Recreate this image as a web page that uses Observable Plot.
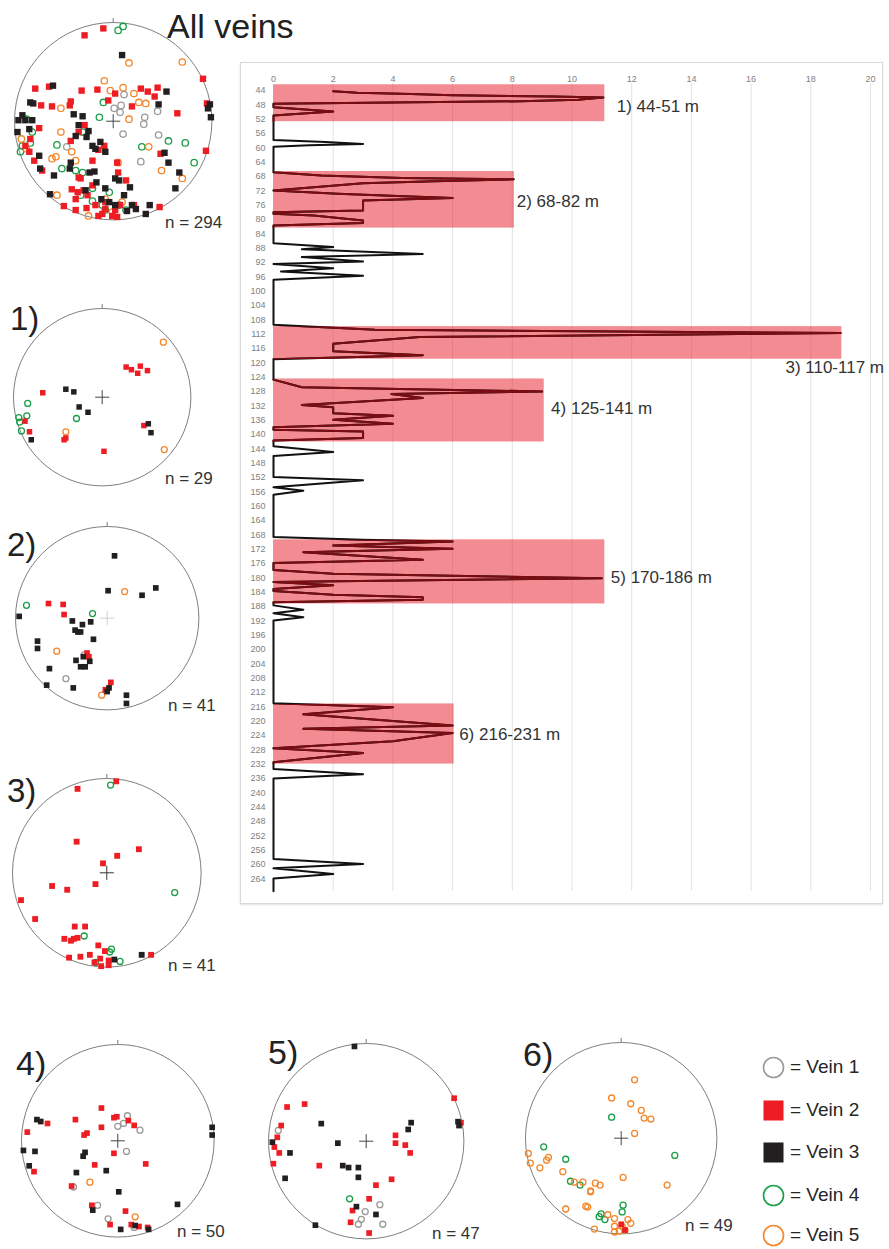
<!DOCTYPE html>
<html><head><meta charset="utf-8">
<script src="https://cdn.jsdelivr.net/npm/d3@7"></script>
<script src="https://cdn.jsdelivr.net/npm/@observablehq/plot@0.6"></script>
<style>
body{margin:0;background:#fff;font-family:"Liberation Sans",Arial,sans-serif;}
#page{position:relative;width:889px;height:1249px;overflow:hidden;background:#fff;}
.lbl{position:absolute;line-height:1;white-space:nowrap;color:#262626;}
.abs{position:absolute;}
</style></head><body><div id="page"></div>
<script>
// ---------- depth profile (vein count per depth) ----------
const depthM = [44.2,44.65,44.95,45.3,45.7,45.95,46.6,47.0,47.7,48.65,49.85,51.0,
57.8,58.4,58.9,59.3,59.7,
66.8,67.7,68.4,68.8,69.3,69.9,71.9,72.8,73.6,74.0,74.7,77.5,78.0,78.4,78.9,80.3,81.0,81.7,
86.6,87.7,88.3,89.6,90.5,91.7,92.4,93.6,94.5,95.7,96.8,
109.4,110.8,111.7,112.8,114.7,116.8,117.9,119.0,
124.7,126.8,128.0,128.7,129.8,131.8,132.4,134.05,134.8,135.9,137.0,138.0,138.7,139.2,141.0,141.7,
143.3,144.9,146.0,151.9,152.8,154.7,155.7,156.8,
168.65,169.4,169.9,171.0,171.9,172.9,175.0,175.9,177.8,178.9,180.1,181.2,182.1,183.1,183.7,184.7,185.4,186.1,186.8,
187.7,188.9,189.9,191.0,191.9,
215.0,216.1,218.1,220.0,221.2,222.1,223.3,225.6,227.6,228.9,231.5,
233.4,234.8,236.0,258.5,259.9,261.1,262.7,263.9,267.5];
const veinCount = [2,2.8,4.6,6,9.4,11.05,10.2,8.3,0,0,2,0,
0,1.75,3,1.2,0,
0,1.6,4.3,8.05,5.4,3,0,2.15,4.6,6,3,3,0,0,1.35,3,3,0,
0,2,0.95,5,0.95,3,0,2,0.25,3,0,
0,3.4,19,4.9,2,2,5,0,
0,0.95,9,3.95,5,0.95,2,2,4,2,4,0,0,3,3,0,
0,2,0,0,3,0,1,0,
0,3,6,2,6,1,5,0,0,2,11,0,2,0,0,2,5,5,0,
0,1,0,1,0,
0,4,1,4,6,1,6,4,0,3,0,
0,3,0,0,3,0,2,0,0];

const zoneLabel = ["1) 44-51 m","2) 68-82 m","3) 110-117 m","4) 125-141 m","5) 170-186 m","6) 216-231 m"];
const zoneTop = [42.4,66.6,109.9,124.5,169.4,215.2];
const zoneBottom = [52.7,82.4,119.0,142.1,187.3,232.0];
const zonePeak = [11.1,8.07,19.04,9.07,11.1,6.05];
const zoneLabelX = [11.5,8.15,17.15,9.3,11.3,6.22];
const zoneLabelDepth = [48.6,74.9,121.2,132.8,179.8,223.7];

const xTicks = [0,2,4,6,8,10,12,14,16,18,20];
const xGrid = [2,4,6,8,10,12,14,16,18,20];
const yTicks = [44,48,52,56,60,64,68,72,76,80,84,88,92,96,100,104,108,112,116,120,124,128,132,136,140,144,148,152,156,160,164,168,172,176,180,184,188,192,196,200,204,208,212,216,220,224,228,232,236,240,244,248,252,256,260,264];

// ---------- stereonet poles: [vein, x, y] in net-radius units ----------
const veinNames = ["Vein 1","Vein 2","Vein 3","Vein 4","Vein 5"];
const veinColors = ["#9a9a9a","#ee1d23","#231f20","#1a9e48","#f4862a"];
const veinSquare = [false,true,true,false,false];

const allVeinsPoles = [
[2,-0.10,0.94],[2,-0.29,0.87],[2,0.91,0.43],[2,-0.79,0.33],[2,-0.65,0.35],[2,-0.32,0.31],[2,-0.16,0.32],[2,0.28,0.33],[2,0.45,0.34],[2,0.35,0.30],[2,0.42,0.25],[2,0.95,0.18],[2,-0.73,0.16],[2,-0.62,0.15],[2,-0.43,0.20],[2,-0.44,0.16],[2,0.65,0.08],[2,-0.75,-0.07],[2,-0.29,-0.04],[2,-0.43,-0.20],[2,-0.35,-0.11],[2,0.19,0.15],[2,0.02,0.28],[2,-0.05,0.21],[2,-0.84,-0.18],[2,-0.89,-0.25],[2,-0.85,-0.31],[2,-0.80,-0.40],[2,-0.72,-0.50],[2,-0.09,-0.25],[2,-0.15,-0.29],[2,-0.21,-0.40],[2,0.04,-0.42],[2,0.05,-0.52],[2,-0.35,-0.57],[2,-0.21,-0.65],[2,-0.42,-0.69],[2,-0.36,-0.72],[2,-0.30,-0.70],[2,-0.38,-0.79],[2,-0.26,-0.75],[2,-0.50,-0.86],[2,-0.38,-0.90],[2,-0.27,-0.88],[2,-0.18,-0.85],[2,-0.08,-0.89],[2,0.02,-0.90],[2,0.07,-0.85],[2,-0.11,-0.94],[2,-0.01,-0.96],[2,0.04,-0.97],[2,-0.15,-0.96],[2,0.48,-0.33],[2,0.94,-0.30],[2,0.47,-0.87],[2,0.21,-0.85],[2,-0.08,-0.82],[2,-0.33,-0.58],[2,0.13,-0.60],
[3,0.09,0.67],[3,-0.61,0.36],[3,0.54,0.30],[3,0.46,0.17],[3,0.98,0.17],[3,0.96,0.13],[3,0.99,0.04],[3,-0.84,0.19],[3,-0.81,0.18],[3,-0.92,0.06],[3,-0.96,0.01],[3,-0.89,0.01],[3,-0.97,-0.11],[3,-0.85,-0.08],[3,-0.82,0.01],[3,-0.40,0.07],[3,-0.31,0.05],[3,-0.35,-0.04],[3,-0.25,-0.10],[3,-0.27,-0.16],[3,-0.38,-0.15],[3,-0.21,-0.25],[3,-0.18,-0.28],[3,-0.13,-0.21],[3,-0.08,-0.31],[3,0.52,-0.32],[3,0.56,-0.42],[3,0.67,-0.52],[3,0.63,-0.68],[3,-0.75,-0.35],[3,-0.74,-0.48],[3,-0.60,-0.55],[3,-0.43,-0.42],[3,-0.44,-0.48],[3,-0.24,-0.52],[3,-0.19,-0.51],[3,-0.17,-0.62],[3,0.02,-0.58],[3,0.06,-0.60],[3,0.17,-0.67],[3,-0.64,-0.74],[3,-0.28,-0.70],[3,-0.08,-0.68],[3,-0.12,-0.79],[3,-0.04,-0.82],[3,0.11,-0.75],[3,0.19,-0.85],[3,0.23,-0.89],[3,0.37,-0.85],[3,0.33,-0.94],[3,0.14,-0.91],[3,0.02,-0.85],
[4,0.10,0.96],[4,0.05,0.92],[4,-0.10,0.19],[4,-0.14,0.04],[4,-0.88,0.02],[4,-0.82,-0.11],[4,-0.92,-0.25],[4,-0.94,-0.31],[4,-0.84,-0.22],[4,-0.57,-0.24],[4,-0.31,-0.11],[4,0.56,-0.20],[4,0.73,-0.22],[4,0.82,-0.42],[4,0.29,-0.26],[4,-0.52,-0.48],[4,-0.38,-0.50],[4,-0.31,-0.52],[4,-0.21,-0.68],[4,-0.33,-0.75],[4,-0.21,-0.81],[4,-0.11,-0.85],[4,-0.08,-0.90],[4,0.06,-0.85],[4,0.13,-0.90],[4,-0.04,-0.72],
[5,0.70,0.60],[5,0.16,0.59],[5,-0.09,0.41],[5,-0.03,0.31],[5,0.10,0.34],[5,0.21,0.28],[5,0.26,0.19],[5,0.33,0.18],[5,-0.53,0.13],[5,0.16,0.02],[5,-0.53,-0.11],[5,-0.93,-0.18],[5,-0.88,-0.28],[5,-0.58,-0.36],[5,-0.38,-0.40],[5,0.05,-0.42],[5,0.70,-0.58],[5,0.49,-0.50],[5,-0.57,-0.75],[5,-0.08,-0.79],[5,0.09,-0.82],[5,-0.01,-0.92],[5,-0.25,-0.96],[5,0.36,-0.26],[5,-0.62,-0.38],[5,-0.42,-0.31],
[1,0.11,0.27],[1,0.08,0.16],[1,0.01,0.13],[1,0.07,0.09],[1,0.45,0.10],[1,0.32,0.04],[1,0.31,-0.03],[1,0.46,-0.14],[1,0.10,-0.13],[1,-0.47,-0.26],[1,0.28,-0.41]];

const zone1Poles = [
[5,0.69,0.62],[5,-0.41,-0.39],[5,0.70,-0.59],
[2,0.27,0.34],[2,0.33,0.31],[2,0.43,0.35],[2,0.40,0.27],[2,0.51,0.30],[2,-0.67,0.05],[2,-0.87,-0.27],[2,-0.82,-0.39],[2,-0.43,-0.48],[2,-0.41,-0.46],[2,0.02,-0.61],[2,0.47,-0.32],
[3,-0.41,0.09],[3,-0.32,0.06],[3,-0.26,-0.11],[3,-0.16,-0.17],[3,0.52,-0.30],[3,0.55,-0.40],[3,-0.80,-0.48],
[4,-0.84,-0.07],[4,-0.85,-0.21],[4,-0.94,-0.23],[4,-0.93,-0.28],[4,-0.91,-0.38],[4,-0.29,-0.24]];

const zone2Poles = [
[3,0.08,0.68],[3,0.01,0.30],[3,0.38,0.25],[3,0.53,0.33],[3,-0.96,0.02],[3,-0.38,-0.03],[3,-0.27,-0.07],[3,-0.18,-0.04],[3,-0.35,-0.13],[3,-0.32,-0.15],[3,-0.29,-0.15],[3,-0.15,-0.23],[3,-0.76,-0.25],[3,-0.76,-0.33],[3,-0.34,-0.46],[3,-0.29,-0.53],[3,-0.24,-0.53],[3,-0.19,-0.47],[3,-0.26,-0.42],[3,-0.63,-0.55],[3,-0.66,-0.73],[3,-0.37,-0.76],[3,0.02,-0.76],[3,0.00,-0.80],[3,0.21,-0.84],[3,0.21,-0.93],
[2,-0.64,0.16],[2,-0.48,0.15],[2,-0.47,0.04],[2,-0.22,-0.38],[2,-0.20,-0.42],[2,0.04,-0.70],[2,-0.02,-0.78],
[4,-0.88,0.14],[4,-0.16,0.05],
[5,0.19,0.29],[5,-0.55,-0.36],[5,-0.06,-0.84],
[1,-0.25,-0.40],[1,-0.45,-0.66]];

const zone3Poles = [
[2,0.10,0.97],[2,-0.31,0.89],[2,-0.32,0.33],[2,0.34,0.25],[2,0.11,0.18],[2,-0.04,0.10],[2,-0.12,-0.12],[2,-0.58,-0.14],[2,-0.42,-0.18],[2,-0.91,-0.29],[2,-0.76,-0.49],[2,-0.34,-0.57],[2,-0.23,-0.57],[2,-0.45,-0.70],[2,-0.38,-0.72],[2,-0.35,-0.70],[2,-0.31,-0.69],[2,-0.09,-0.77],[2,-0.02,-0.83],[2,-0.18,-0.87],[2,-0.28,-0.89],[2,-0.40,-0.90],[2,-0.07,-0.91],[2,0.02,-0.93],[2,-0.06,-0.99],[2,0.02,-0.98],[2,-0.13,-0.95],[2,0.47,-0.87],
[3,0.08,-0.92],[3,0.37,-0.87],
[4,0.04,0.93],[4,0.72,-0.21],[4,-0.24,-0.67],[4,0.05,-0.81],[4,0.03,-0.84],[4,0.14,-0.94],[4,-0.12,-0.95]];

const zone4Poles = [
[2,-0.17,0.34],[2,-0.44,0.22],[2,-0.04,0.24],[2,-0.01,0.25],[2,0.11,0.21],[2,0.17,0.16],[2,-0.73,0.18],[2,-0.94,0.09],[2,-0.17,0.14],[2,-0.35,0.06],[2,-0.32,0.08],[2,-0.04,-0.13],[2,-0.24,-0.25],[2,0.29,-0.24],[2,-0.87,-0.32],[2,-0.48,-0.47],[2,-0.27,-0.67],[2,0.08,-0.73],[2,-0.08,-0.87],[2,0.14,-0.87],[2,0.22,-0.89],[2,0.31,-0.90],
[3,-0.84,0.22],[3,-0.80,0.20],[3,-0.98,-0.10],[3,-0.86,-0.11],[3,-0.92,-0.26],[3,-0.34,-0.12],[3,-0.36,-0.16],[3,-0.43,-0.33],[3,-0.12,-0.31],[3,0.01,-0.53],[3,-0.26,-0.72],[3,0.03,-0.92],[3,0.18,-0.88],[3,0.32,-0.92],[3,0.62,-0.66],[3,0.98,0.14],[3,0.98,0.06],
[1,0.10,0.26],[1,0.06,0.18],[1,0.00,0.15],[1,0.23,0.11],[1,0.09,-0.11],[1,-0.46,-0.48],[1,-0.21,-0.67],[1,-0.10,-0.81],[1,0.17,-0.90],
[5,-0.29,-0.43],[5,0.18,-0.79]];

const zone5Poles = [
[3,-0.12,0.97],[3,-0.46,0.18],[3,0.46,0.19],[3,0.43,0.12],[3,0.94,0.20],[3,0.95,0.16],[3,-0.96,-0.01],[3,-0.78,-0.12],[3,-0.29,-0.02],[3,-0.24,-0.25],[3,-0.18,-0.27],[3,-0.08,-0.27],[3,-0.08,-0.37],[3,-0.83,-0.38],[3,-0.10,-0.67],[3,0.10,-0.75],[3,-0.52,-0.86],
[2,-0.81,0.35],[2,-0.63,0.38],[2,0.90,0.44],[2,0.97,0.19],[2,-0.87,0.16],[2,-0.91,0.04],[2,-0.94,-0.06],[2,-0.89,-0.12],[2,-0.95,-0.23],[2,0.30,0.06],[2,0.30,-0.02],[2,0.40,-0.04],[2,0.45,-0.12],[2,-0.48,-0.25],[2,0.26,-0.39],[2,0.10,-0.45],[2,0.03,-0.59],[2,-0.14,-0.71],[2,-0.16,-0.83],[2,0.03,-0.94],
[1,-0.90,0.11],[1,0.14,-0.65],[1,-0.01,-0.72],[1,-0.05,-0.80],[1,-0.08,-0.85],[1,0.17,-0.85],
[4,-0.17,-0.59]];

const zone6Poles = [
[5,0.14,0.61],[5,-0.10,0.42],[5,0.10,0.36],[5,0.21,0.29],[5,0.24,0.21],[5,0.31,0.20],[5,0.14,0.05],[5,-0.97,-0.16],[5,-0.95,-0.26],[5,-0.78,-0.23],[5,-0.76,-0.20],[5,-0.85,-0.31],[5,-0.61,-0.35],[5,-0.49,-0.46],[5,-0.40,-0.46],[5,-0.27,-0.47],[5,-0.22,-0.49],[5,-0.32,-0.55],[5,-0.32,-0.56],[5,0.02,-0.41],[5,0.48,-0.49],[5,-0.58,-0.74],[5,-0.37,-0.71],[5,-0.35,-0.72],[5,-0.14,-0.80],[5,-0.07,-0.84],[5,0.07,-0.85],[5,0.10,-0.89],[5,-0.07,-0.92],[5,0.04,-0.96],[5,-0.07,-0.98],[5,-0.02,-0.97],[5,-0.28,-0.95],[5,0.01,-0.92],
[4,-0.10,0.22],[4,-0.81,-0.09],[4,-0.58,-0.22],[4,0.56,-0.18],[4,-0.53,-0.45],[4,-0.43,-0.49],[4,0.02,-0.70],[4,0.01,-0.77],[4,-0.21,-0.79],[4,-0.23,-0.82],[4,-0.17,-0.85],
[2,0.00,-0.90],[2,0.04,-0.96]];

const netTitles = ["All veins","1)","2)","3)","4)","5)","6)"];
const netCounts = ["n = 294","n = 29","n = 41","n = 41","n = 50","n = 47","n = 49"];

// ---------- layout helpers ----------
const page = document.getElementById("page");
const FONT = '"Liberation Sans", Arial, sans-serif';
function addText(txt, left, baseline, fs, color) {
  const d = document.createElement("div");
  d.className = "lbl";
  d.textContent = txt;
  d.style.left = left + "px";
  d.style.top = (baseline - 0.8465 * fs) + "px";
  d.style.fontSize = fs + "px";
  if (color) d.style.color = color;
  page.appendChild(d);
}
function place(el, left, top) {
  el.style.position = "absolute";
  el.style.left = left + "px";
  el.style.top = top + "px";
  page.appendChild(el);
}

// ---------- main depth chart ----------
const panel = document.createElement("div");
panel.style.cssText = "position:absolute;left:240px;top:62px;width:641px;height:840px;border:1px solid #d9d9d9;box-shadow:0 1px 2px rgba(0,0,0,0.12);background:#fff;";
page.appendChild(panel);

const profile = depthM.map((d, i) => ({depth: d, count: veinCount[i]}));
const zones = zoneLabel.map((t, i) => ({label: t, top: zoneTop[i], bottom: zoneBottom[i], peak: zonePeak[i], lx: zoneLabelX[i], ly: zoneLabelDepth[i]}));

const chart = Plot.plot({
  width: 642, height: 841,
  marginLeft: 33, marginRight: 12, marginTop: 28, marginBottom: 12.2,
  x: {domain: [0, 20], axis: null},
  y: {domain: [44, 267.5], reverse: true, axis: null},
  style: {overflow: "visible", background: "transparent", fontFamily: FONT},
  marks: [
    Plot.ruleX(xGrid, {x: d => d, y1: () => 42, y2: () => 267.5, stroke: "#e2e2e2", strokeWidth: 1}),
    Plot.rect(zones, {x1: () => 0, x2: "peak", y1: "top", y2: "bottom", fill: "#e8323c", fillOpacity: 0.56}),
    Plot.line(profile, {x: "count", y: "depth", stroke: "#111", strokeWidth: 2}),
    Plot.line(profile, {x: "count", y: "depth", stroke: "#7a0c12", strokeWidth: 2}),
    Plot.text(zones, {x: "lx", y: "ly", text: "label", textAnchor: "start", fontSize: 17, fill: "#333"}),
    Plot.text(xTicks, {x: d => d, text: d => String(d), frameAnchor: "top", dy: -15, fontSize: 9, fill: "#7f7f7f"}),
    Plot.text(yTicks, {y: d => d, text: d => String(d), frameAnchor: "left", dx: -8, textAnchor: "end", fontSize: 9, fill: "#7f7f7f"})
  ]
});
// clip the dark-red profile to the zone boxes
(function () {
  const ns = "http://www.w3.org/2000/svg";
  const rects = chart.querySelectorAll('g[aria-label="rect"] rect');
  const lines = chart.querySelectorAll('g[aria-label="line"]');
  if (rects.length && lines.length > 1) {
    const defs = document.createElementNS(ns, "defs");
    const cp = document.createElementNS(ns, "clipPath");
    cp.setAttribute("id", "zoneClipRed");
    rects.forEach(r => {
      const c = document.createElementNS(ns, "rect");
      const x = +r.getAttribute("x"), w = +r.getAttribute("width");
      c.setAttribute("x", x - 2);
      c.setAttribute("width", w + 2);
      c.setAttribute("y", r.getAttribute("y"));
      c.setAttribute("height", r.getAttribute("height"));
      cp.appendChild(c);
    });
    defs.appendChild(cp);
    chart.insertBefore(defs, chart.firstChild);
    lines[1].setAttribute("clip-path", "url(#zoneClipRed)");
  }
})();
place(chart, 240, 62);

// ---------- stereonets ----------
function stereonet(poles, cx, cy, R, opt) {
  const pad = 10;
  const size = 2 * R + 2 * pad;
  const marks = [
    Plot.dot([0], {x: d => d, y: d => d, r: R, stroke: "#6f6f6f", strokeWidth: 0.9, fill: "none"}),
    Plot.ruleX([0], {x: d => d, y1: () => 1, y2: () => 1 + 4 / R, stroke: "#777", strokeWidth: 1})
  ];
  for (const v of [1, 4, 5, 2, 3]) {
    const sub = poles.filter(p => p[0] === v);
    if (!sub.length) continue;
    if (veinSquare[v - 1]) {
      marks.push(Plot.dot(sub, {x: p => p[1], y: p => p[2], symbol: "square", r: opt.sq, fill: veinColors[v - 1]}));
    } else {
      marks.push(Plot.dot(sub, {x: p => p[1], y: p => p[2], r: opt.ci, stroke: veinColors[v - 1], strokeWidth: 1.3, fill: "none"}));
    }
  }
  marks.push(Plot.dot([0], {x: d => d, y: d => d, symbol: "plus", r: 4.6, stroke: opt.cross || "#444", strokeWidth: 1}));
  const svg = Plot.plot({
    width: size, height: size, margin: pad,
    x: {domain: [-1, 1], axis: null},
    y: {domain: [-1, 1], axis: null},
    style: {overflow: "visible", background: "transparent"},
    marks
  });
  place(svg, cx - R - pad, cy - R - pad);
}

stereonet(allVeinsPoles, 113, 121, 98.7, {sq: 3.6, ci: 3.2});
stereonet(zone1Poles, 102, 397, 88.7, {sq: 3.1, ci: 3.0});
stereonet(zone2Poles, 107, 618, 91.7, {sq: 3.2, ci: 3.0, cross: "#cfcfcf"});
stereonet(zone3Poles, 106, 872, 94.3, {sq: 3.3, ci: 3.0, cross: "#333"});
stereonet(zone4Poles, 117, 1140, 96.3, {sq: 3.2, ci: 3.0});
stereonet(zone5Poles, 366, 1141, 97.7, {sq: 3.2, ci: 3.0});
stereonet(zone6Poles, 621, 1138, 95.7, {sq: 3.2, ci: 3.0});

// titles and counts
addText(netTitles[0], 167, 38, 34, "#222");
addText(netTitles[1], 10, 330, 33, "#222");
addText(netTitles[2], 7, 556, 33, "#222");
addText(netTitles[3], 7, 802, 33, "#222");
addText(netTitles[4], 16, 1075, 34, "#222");
addText(netTitles[5], 268, 1064, 34, "#222");
addText(netTitles[6], 523, 1066, 34, "#222");
addText(netCounts[0], 165, 228, 17, "#333");
addText(netCounts[1], 165, 484, 17, "#333");
addText(netCounts[2], 168, 711, 17, "#333");
addText(netCounts[3], 168, 971, 17, "#333");
addText(netCounts[4], 177, 1237, 17, "#333");
addText(netCounts[5], 432, 1239, 17, "#333");
addText(netCounts[6], 685, 1231, 17, "#333");

// ---------- legend ----------
const legendRowsY = [1067, 1110, 1152, 1195, 1235];
const legendItems = veinNames.map((n, i) => ({i, row: legendRowsY[i] - 1050}));
const legend = Plot.plot({
  width: 40, height: 200, margin: 0,
  x: {domain: [0, 1], range: [0, 40], axis: null},
  y: {domain: [0, 200], range: [0, 200], axis: null},
  style: {overflow: "visible", background: "transparent"},
  marks: legendItems.map(d => veinSquare[d.i]
    ? Plot.dot([d], {x: () => 0.5, y: "row", symbol: "square", r: 11.3, fill: veinColors[d.i]})
    : Plot.dot([d], {x: () => 0.5, y: "row", r: 10, stroke: veinColors[d.i], strokeWidth: 1.6, fill: "none"}))
});
place(legend, 753, 1050);
veinNames.forEach((n, i) => addText("= " + n, 790, legendRowsY[i] + 6.5, 19, "#262626"));
</script>
</body></html>
